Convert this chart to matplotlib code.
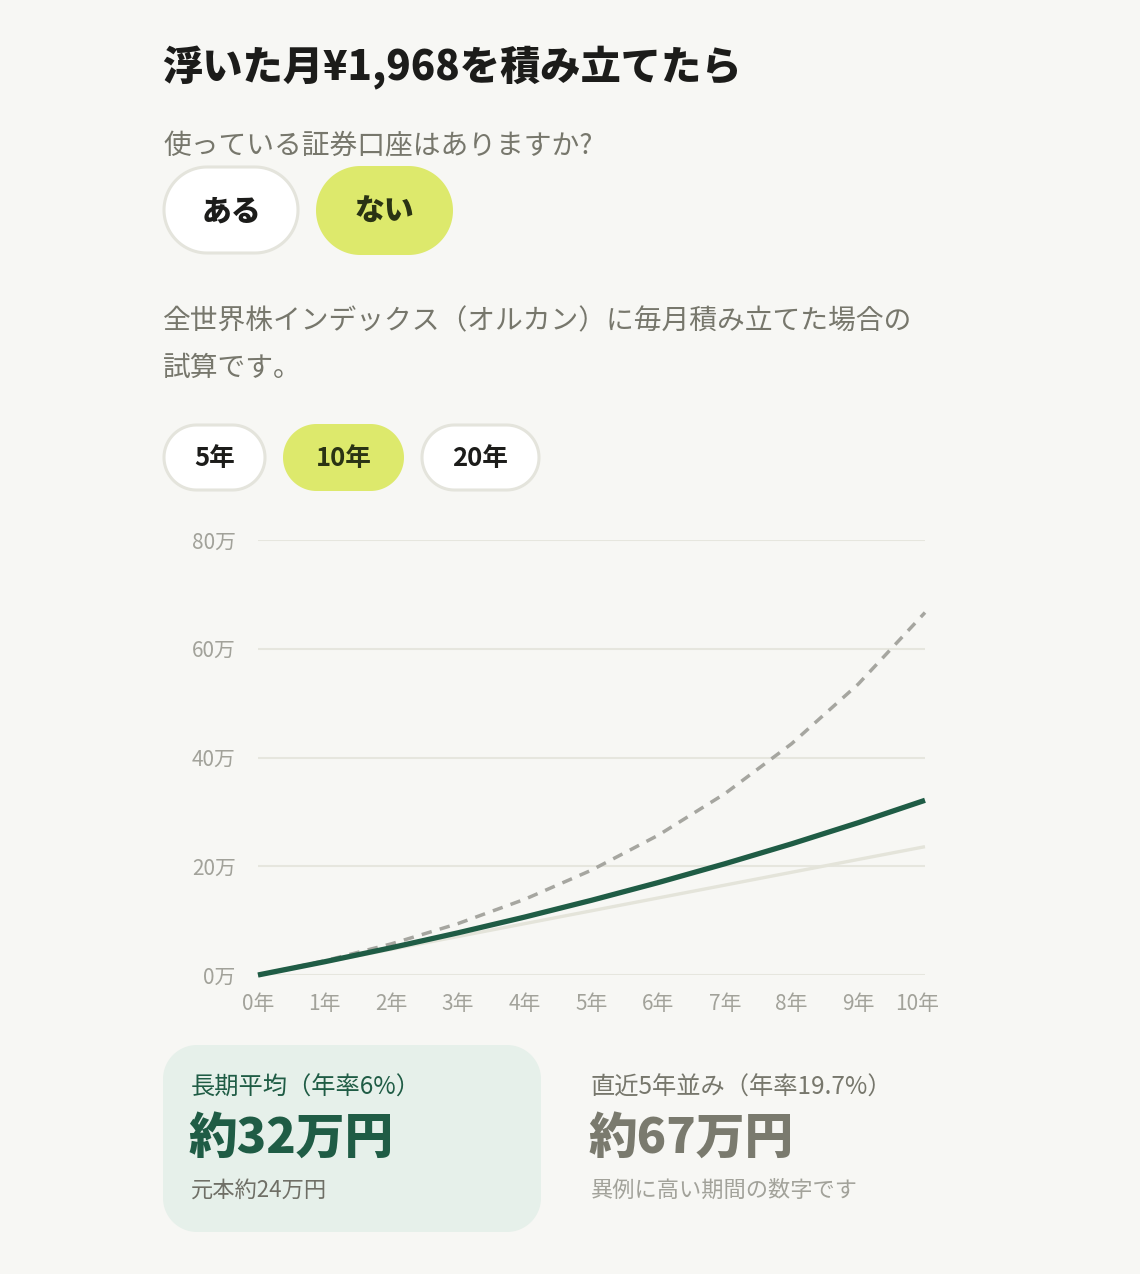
import matplotlib
matplotlib.use("Agg")
import numpy as np
import matplotlib.pyplot as plt
import matplotlib.transforms as mtransforms
from matplotlib.patches import Polygon

plt.rcParams['font.family'] = ['Noto Sans CJK JP', 'DejaVu Sans']

# ---- data (万円) ----
years = [0, 1, 2, 3, 4, 5, 6, 7, 8, 9, 10]
year_labels = ["0年", "1年", "2年", "3年", "4年", "5年", "6年", "7年", "8年", "9年", "10年"]
principal = [0, 2.36, 4.72, 7.08, 9.45, 11.81, 14.17, 16.53, 18.89, 21.25, 23.6]
avg_6pct = [0, 2.44, 5.02, 7.76, 10.66, 13.74, 17.0, 20.46, 24.12, 28.01, 32.13]
recent_197pct = [0, 2.61, 5.73, 9.46, 13.93, 19.28, 25.7, 33.35, 42.53, 53.51, 66.66]
y_ticks = [0, 20, 40, 60, 80]
y_tick_labels = ["0万", "20万", "40万", "60万", "80万"]
period_options = ["5年", "10年", "20年"]
account_options = ["ある", "ない"]

BG = "#f7f7f4"
LIME = "#dde96c"
DARK_GREEN = "#1f5c45"
GREY_TEXT = "#77776c"
LIGHT_GREY = "#a2a29a"
GRID = "#e6e6de"
BORDER = "#e4e4dc"

W, H = 1140, 1274
fig = plt.figure(figsize=(W / 100, H / 100), dpi=100, facecolor=BG)

# overlay in pixel coordinates
ov = fig.add_axes([0, 0, 1, 1])
ov.set_xlim(0, W)
ov.set_ylim(H, 0)
ov.axis("off")
ov.set_facecolor(BG)


def rounded(x0, y0, x1, y1, fc, ec=None, lw=0, r=None):
    h = y1 - y0
    w = x1 - x0
    if r is None:
        r = h / 2
    r = min(r, h / 2, w / 2)
    pts = []
    corners = [(x1 - r, y0 + r, -90, 0), (x1 - r, y1 - r, 0, 90),
               (x0 + r, y1 - r, 90, 180), (x0 + r, y0 + r, 180, 270)]
    for cx, cy, a0, a1 in corners:
        a = np.radians(np.linspace(a0, a1, 30))
        pts.extend(zip(cx + r * np.cos(a), cy + r * np.sin(a)))
    p = Polygon(pts, closed=True, fc=fc, ec=ec if ec else fc, lw=lw,
                joinstyle="round")
    ov.add_patch(p)


# title
ov.text(162, 68, "浮いた月¥1,968を積み立てたら", fontsize=29, fontweight="heavy",
        color="#1c1c1a", va="center", ha="left")
ov.text(163, 146, "使っている証券口座はありますか?", fontsize=20,
        color=GREY_TEXT, va="center", ha="left")

# account buttons
rounded(164, 167, 298, 253, "white", BORDER, 2.2)
ov.text(231, 211, account_options[0], fontsize=21.5, fontweight="heavy",
        color="#1c1c1a", ha="center", va="center")
rounded(316, 166, 453, 255, LIME)
ov.text(384.5, 211, account_options[1], fontsize=21.5, fontweight="heavy",
        color="#2a3314", ha="center", va="center")

# paragraph
ov.text(163, 321, "全世界株インデックス（オルカン）に毎月積み立てた場合の", fontsize=20,
        color=GREY_TEXT, va="center", ha="left")
ov.text(163, 368, "試算です。", fontsize=20, color=GREY_TEXT, va="center", ha="left")

# period buttons
period_boxes = [(164, 425, 265, 490), (283, 424, 404, 491), (422, 425, 539, 490)]
for lab, (x0, y0, x1, y1) in zip(period_options, period_boxes):
    if lab == "10年":
        rounded(x0, y0, x1, y1, LIME)
        col = "#2a3314"
    else:
        rounded(x0, y0, x1, y1, "white", BORDER, 2.2)
        col = "#1c1c1a"
    ov.text((x0 + x1) / 2, (y0 + y1) / 2 + 1, lab, fontsize=18.5, fontweight="bold",
            color=col, ha="center", va="center")

# result cards
rounded(163, 1045, 541, 1232, "#e6f0ea", r=34)
ov.text(191, 1088, "長期平均（年率6%）", fontsize=17.5, color=DARK_GREEN, va="center", ha="left")
ov.text(189, 1138, "約32万円", fontsize=35, fontweight="heavy", color=DARK_GREEN,
        va="center", ha="left")
ov.text(191, 1190, "元本約24万円", fontsize=16, color="#6f6f66", va="center", ha="left")

ov.text(591, 1088, "直近5年並み（年率19.7%）", fontsize=17.5, color=GREY_TEXT, va="center", ha="left")
ov.text(589, 1138, "約67万円", fontsize=35, fontweight="heavy", color="#7a7a6e",
        va="center", ha="left")
ov.text(591, 1190, "異例に高い期間の数字です", fontsize=16, color=LIGHT_GREY, va="center", ha="left")

# ---- chart ----
ax = fig.add_axes([258 / W, 1 - 975 / H, (925 - 258) / W, (975 - 540) / H])
ax.set_facecolor("none")
ax.set_xlim(0, 10)
ax.set_ylim(0, 80)
for s in ax.spines.values():
    s.set_visible(False)
ax.set_yticks(y_ticks)
ax.set_yticklabels(y_tick_labels)
ax.set_xticks(years)
ax.set_xticklabels(year_labels)
ax.tick_params(length=0, colors=LIGHT_GREY, labelsize=15)
ax.tick_params(axis="y", pad=16)
ax.tick_params(axis="x", pad=13)
ax.grid(axis="y", color=GRID, lw=1.5)
ax.set_axisbelow(True)

# last x label sits slightly left (kept inside the chart area)
last = ax.get_xticklabels()[-1]
last.set_transform(last.get_transform() +
                   mtransforms.ScaledTranslation(-8 / 100, 0, fig.dpi_scale_trans))

ax.plot(years, principal, color="#e4e4da", lw=2.4, clip_on=False, zorder=2,
        solid_capstyle="butt")
ax.plot(years, recent_197pct, color="#a6a6a0", lw=2.5, ls=(0, (3, 2.4)),
        clip_on=False, zorder=3)
ax.plot(years, avg_6pct, color=DARK_GREEN, lw=3.8, clip_on=False, zorder=4,
        solid_capstyle="butt", solid_joinstyle="round")

fig.savefig("out.png", dpi=100, facecolor=BG)
